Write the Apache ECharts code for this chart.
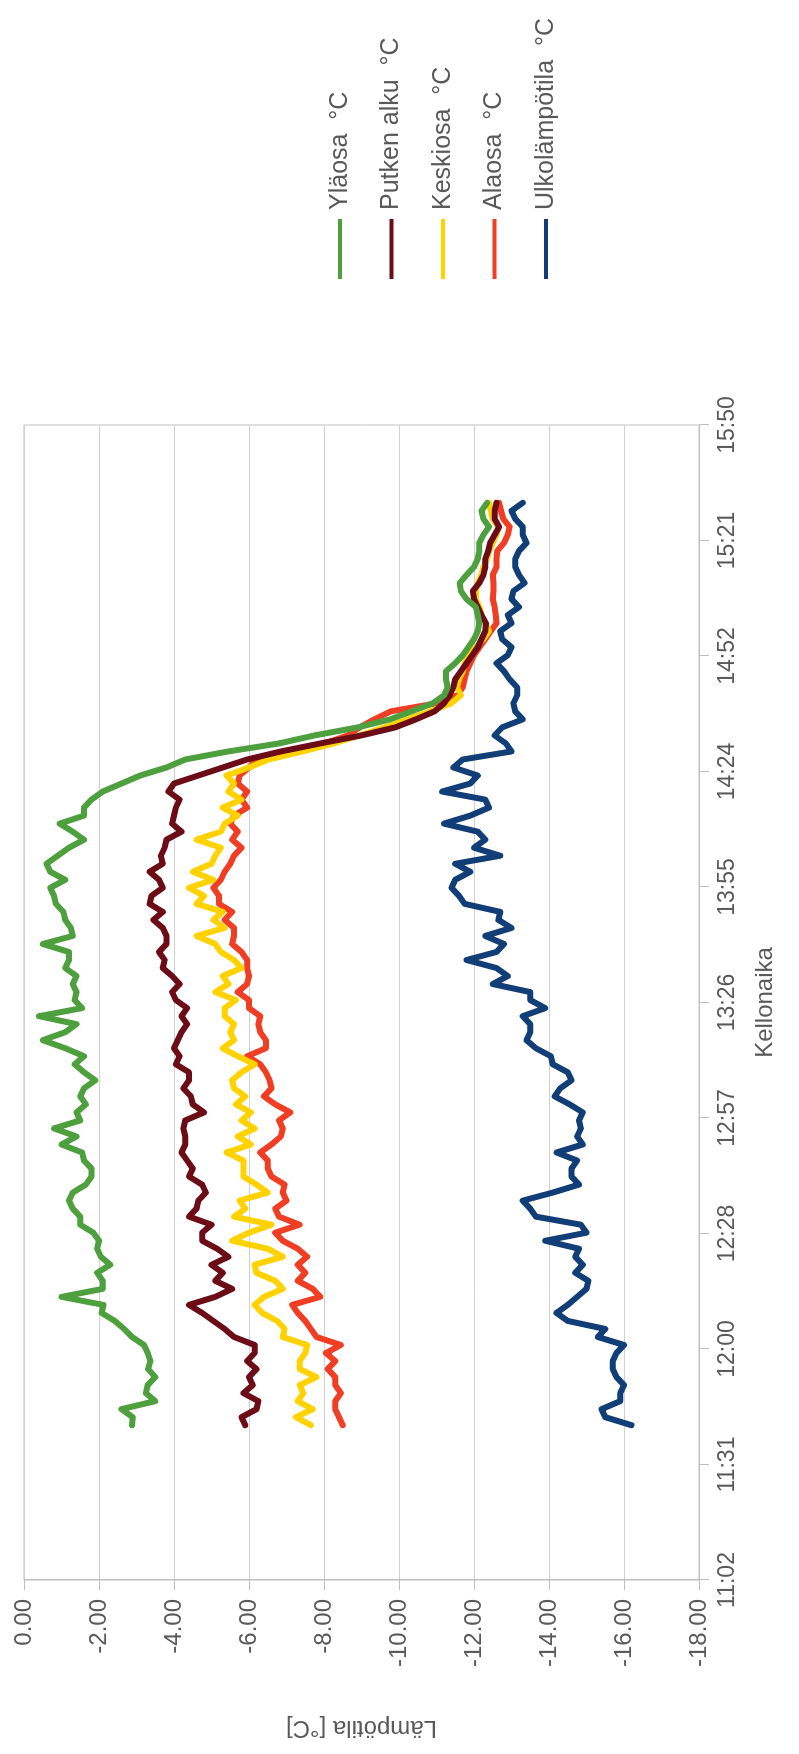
<!DOCTYPE html>
<html>
<head>
<meta charset="utf-8">
<script src="https://cdn.jsdelivr.net/npm/echarts@6/dist/echarts.min.js"></script>
<style>
html,body{margin:0;padding:0;width:799px;height:1754px;overflow:hidden;background:#fff;}
#chart{position:absolute;left:0;top:0;width:1754px;height:799px;transform-origin:0 0;transform:translate(0,1754px) rotate(-90deg);}
</style>
</head>
<body>
<div id="chart"></div>
<script>
const times = [
"11:41","11:43","11:45","11:47","11:49","11:51","11:53","11:55","11:57","11:59",
"12:01","12:03","12:05","12:07","12:09","12:11","12:13","12:15","12:17","12:19",
"12:21","12:23","12:25","12:27","12:29","12:31","12:33","12:35","12:37","12:39",
"12:41","12:43","12:45","12:47","12:49","12:51","12:53","12:55","12:57","12:59",
"13:01","13:03","13:05","13:07","13:09","13:11","13:13","13:15","13:17","13:19",
"13:21","13:23","13:25","13:27","13:29","13:31","13:33","13:35","13:37","13:39",
"13:41","13:43","13:45","13:47","13:49","13:51","13:53","13:55","13:57","13:59",
"14:01","14:03","14:05","14:07","14:09","14:11","14:13","14:15","14:17","14:19",
"14:21","14:23","14:25","14:27","14:29","14:31","14:33","14:35","14:37","14:39",
"14:41","14:43","14:45","14:47","14:49","14:51","14:53","14:55","14:57","14:59",
"15:01","15:03","15:05","15:07","15:09","15:11","15:13","15:15","15:17","15:19",
"15:21","15:23","15:25","15:27","15:29","15:31"];

const ylaosa = [
-2.88,-2.9,-2.6,-3.5,-3.25,-3.3,-3.5,-3.31,-3.37,-3.3,
-3.2,-2.88,-2.67,-2.42,-2.07,-2.12,-1.0,-2.1,-2.1,-1.95,
-2.3,-2.05,-1.95,-2.0,-1.85,-1.5,-1.5,-1.3,-1.2,-1.3,
-1.65,-1.8,-1.8,-1.6,-1.55,-1.0,-1.4,-0.8,-1.5,-1.4,
-1.65,-1.5,-1.6,-1.9,-1.6,-1.35,-1.6,-1.1,-0.5,-1.1,
-1.4,-0.4,-1.55,-1.35,-1.4,-1.3,-1.4,-1.1,-1.2,-1.2,
-0.5,-1.3,-1.25,-1.1,-1.05,-0.85,-0.8,-0.7,-1.1,-0.7,
-0.6,-0.9,-1.2,-1.6,-1.3,-0.95,-1.6,-1.6,-1.8,-2.1,
-2.6,-3.1,-3.8,-4.3,-5.45,-6.8,-7.75,-8.9,-9.76,-10.34,
-10.9,-11.2,-11.3,-11.25,-11.25,-11.5,-11.7,-11.85,-12.0,-12.1,
-12.14,-12.1,-12.05,-11.8,-11.65,-11.62,-11.8,-12.0,-12.1,-12.14,
-12.14,-12.25,-12.4,-12.25,-12.2,-12.35];

const putkenAlku = [
-5.9,-5.8,-6.2,-6.25,-5.85,-6.1,-6.0,-6.2,-5.95,-6.15,
-6.15,-5.6,-5.35,-5.05,-4.75,-4.4,-5.1,-5.55,-5.1,-5.3,
-5.0,-5.45,-5.15,-4.75,-4.75,-5.0,-4.4,-4.6,-4.65,-4.85,
-4.75,-4.4,-4.5,-4.35,-4.2,-4.3,-4.3,-4.25,-4.3,-4.8,
-4.5,-4.45,-4.25,-4.4,-4.4,-4.05,-4.15,-4.0,-4.1,-4.2,
-4.35,-4.2,-4.35,-4.05,-3.95,-4.15,-3.95,-3.7,-3.75,-3.6,
-3.8,-3.8,-3.7,-3.45,-3.7,-3.35,-3.4,-3.7,-3.6,-3.35,
-3.7,-3.65,-3.75,-3.8,-4.2,-3.95,-4.0,-4.05,-4.15,-3.85,
-4.0,-4.65,-5.3,-5.95,-6.85,-7.9,-9.0,-9.9,-10.45,-10.95,
-11.2,-11.35,-11.45,-11.5,-11.65,-11.8,-11.95,-12.1,-12.2,-12.3,
-12.32,-12.2,-12.1,-12.0,-11.97,-12.14,-12.25,-12.3,-12.3,-12.38,
-12.43,-12.55,-12.67,-12.55,-12.55,-12.6];

const keskiosa = [
-7.65,-7.25,-7.7,-7.3,-7.45,-7.35,-7.8,-7.35,-7.35,-7.5,
-7.55,-6.9,-6.95,-6.75,-6.35,-6.15,-6.4,-6.9,-6.7,-6.2,
-6.15,-6.9,-6.5,-5.55,-6.0,-6.6,-5.6,-5.9,-5.75,-6.5,
-6.2,-5.85,-5.85,-5.85,-5.4,-6.05,-5.7,-6.15,-5.8,-6.05,
-5.65,-5.9,-5.6,-5.55,-5.8,-6.15,-5.7,-5.3,-5.6,-5.5,
-5.6,-5.35,-5.35,-5.65,-5.1,-5.45,-5.3,-5.8,-5.6,-5.25,
-5.1,-4.6,-5.35,-5.05,-5.3,-4.6,-4.8,-4.4,-5.05,-4.5,
-5.0,-5.1,-5.25,-4.6,-5.25,-5.35,-5.7,-5.3,-5.8,-5.45,
-5.6,-5.4,-6.0,-6.52,-7.43,-8.25,-8.95,-9.62,-10.23,-10.83,
-11.39,-11.65,-11.55,-11.6,-11.7,-11.75,-11.85,-12.05,-12.25,-12.4,
-12.3,-12.2,-12.15,-12.05,-12.05,-12.1,-12.2,-12.25,-12.35,-12.4,
-12.5,-12.6,-12.65,-12.5,-12.45,-12.4];

const alaosa = [
-8.5,-8.4,-8.3,-8.3,-8.45,-8.3,-8.3,-8.1,-8.3,-8.05,
-8.45,-7.8,-7.65,-7.5,-7.3,-7.15,-7.9,-7.7,-7.3,-7.5,
-7.3,-7.55,-7.3,-6.9,-6.7,-7.35,-6.8,-6.7,-7.0,-6.9,
-6.95,-6.6,-6.5,-6.5,-6.3,-6.6,-6.85,-6.9,-6.8,-7.1,
-6.7,-6.4,-6.6,-6.55,-6.45,-6.3,-5.95,-6.45,-6.45,-6.3,
-6.25,-6.3,-6.0,-6.0,-5.7,-5.95,-6.0,-5.95,-5.95,-5.8,
-5.55,-5.6,-5.6,-5.35,-5.55,-5.2,-5.2,-5.05,-5.25,-5.35,
-5.5,-5.6,-5.8,-5.55,-5.7,-5.5,-5.6,-5.95,-5.8,-5.95,
-5.7,-5.75,-6.0,-6.2,-7.24,-8.02,-8.63,-8.95,-9.34,-9.78,
-11.0,-11.55,-11.7,-11.75,-11.8,-11.9,-12.0,-12.15,-12.3,-12.45,
-12.6,-12.58,-12.55,-12.5,-12.52,-12.52,-12.5,-12.6,-12.6,-12.62,
-12.8,-12.9,-12.95,-12.78,-12.72,-12.67];

const ulkolampotila = [
-16.2,-15.5,-15.4,-15.9,-15.9,-16.0,-15.8,-15.7,-15.7,-15.8,
-16.0,-15.3,-15.5,-14.5,-14.2,-14.5,-14.75,-15.0,-15.05,-14.7,
-14.9,-14.7,-14.8,-13.9,-15.0,-14.85,-13.65,-13.5,-13.3,-14.1,
-14.8,-14.6,-14.6,-14.75,-14.2,-14.9,-14.75,-14.85,-14.8,-14.9,
-14.55,-14.15,-14.3,-14.6,-14.5,-14.1,-14.05,-13.65,-13.4,-13.5,
-13.5,-13.3,-13.9,-13.5,-13.5,-12.5,-12.9,-12.6,-11.8,-12.6,
-12.8,-12.3,-13.0,-12.65,-12.7,-11.75,-11.6,-11.4,-11.5,-11.9,
-11.5,-12.7,-12.0,-12.3,-12.1,-11.2,-11.9,-12.4,-12.3,-11.15,
-11.9,-12.1,-11.45,-11.7,-13.0,-12.85,-12.55,-12.75,-13.3,-13.1,
-13.05,-13.15,-13.15,-12.95,-12.8,-12.6,-12.9,-13.0,-12.75,-12.7,
-13.0,-12.9,-13.2,-13.0,-13.05,-13.35,-13.2,-13.1,-13.1,-13.2,
-13.4,-13.3,-13.3,-13.1,-13.0,-13.3];

const seriesNames = ["Yläosa  °C", "Putken alku  °C", "Keskiosa  °C", "Alaosa  °C", "Ulkolämpötila  °C"];
const seriesValues = [ylaosa, putkenAlku, keskiosa, alaosa, ulkolampotila];
const seriesColors = ["#4E9F3D", "#6B0C17", "#FFD200", "#F03E25", "#123E78"];

const axisTitleX = "Kellonaika";
const axisTitleY = "Lämpötila [°C]";

function toMin(s){ const p = s.split(":"); return (+p[0])*60 + (+p[1]); }
function fmtTime(v){ const m = Math.floor(v + 1e-6); const h = Math.floor(m/60); const mm = m % 60; return h + ":" + (mm < 10 ? "0" : "") + mm; }

const FONT = "'Liberation Sans', Arial, Helvetica, sans-serif";
const TXT = "#595959";

const series = [];
for (let i = seriesNames.length - 1; i >= 0; i--) {
  series.push({
    name: seriesNames[i],
    type: 'line',
    symbol: 'none',
    showSymbol: false,
    smooth: false,
    data: times.map((t, k) => [toMin(t), seriesValues[i][k]]),
    lineStyle: { color: seriesColors[i], width: 6, cap: 'round', join: 'round' },
    itemStyle: { color: seriesColors[i] },
    emphasis: { disabled: true }
  });
}

const chart = echarts.init(document.getElementById('chart'), null, { renderer: 'canvas', width: 1754, height: 799 });
chart.setOption({
  animation: false,
  backgroundColor: '#ffffff',
  textStyle: { fontFamily: FONT },
  grid: { left: 174, top: 24, width: 1155, height: 675, show: true, borderColor: '#BFBFBF', borderWidth: 1, backgroundColor: 'transparent', containLabel: false, outerBoundsMode: 'none' },
  legend: {
    orient: 'vertical',
    left: 1475,
    top: 327,
    padding: 0,
    itemWidth: 60,
    itemHeight: 26,
    itemGap: 25.5,
    icon: 'path://M0,11 L60,11 L60,15 L0,15 Z',
    data: seriesNames,
    textStyle: { fontSize: 25, color: TXT, fontFamily: FONT, lineHeight: 26, padding: [0, 0, 0, 4] }
  },
  xAxis: {
    type: 'value',
    min: 662.4,
    max: 950.4,
    interval: 28.8,
    name: axisTitleX,
    nameLocation: 'middle',
    nameGap: 54,
    nameTextStyle: { fontSize: 24, color: TXT, fontFamily: FONT },
    axisLine: { show: true, onZero: false, lineStyle: { color: '#BFBFBF', width: 1 } },
    axisTick: { show: true, inside: false, length: 10, lineStyle: { color: '#BFBFBF' } },
    axisLabel: { formatter: fmtTime, fontSize: 23, color: TXT, margin: 17, fontFamily: FONT, showMinLabel: true, showMaxLabel: true },
    splitLine: { show: false }
  },
  yAxis: {
    type: 'value',
    min: -18,
    max: 0,
    interval: 2,
    name: axisTitleY,
    nameLocation: 'middle',
    nameGap: 136,
    nameTextStyle: { fontSize: 24, color: TXT, fontFamily: FONT },
    axisLine: { show: true, onZero: false, lineStyle: { color: '#BFBFBF', width: 1 } },
    axisTick: { show: true, inside: false, length: 10, lineStyle: { color: '#BFBFBF' } },
    axisLabel: { formatter: v => v.toFixed(2), fontSize: 24, color: TXT, margin: 19, fontFamily: FONT },
    splitLine: { show: true, lineStyle: { color: '#D0D0D0', width: 1 } }
  },
  series: series
});
</script>
</body>
</html>
